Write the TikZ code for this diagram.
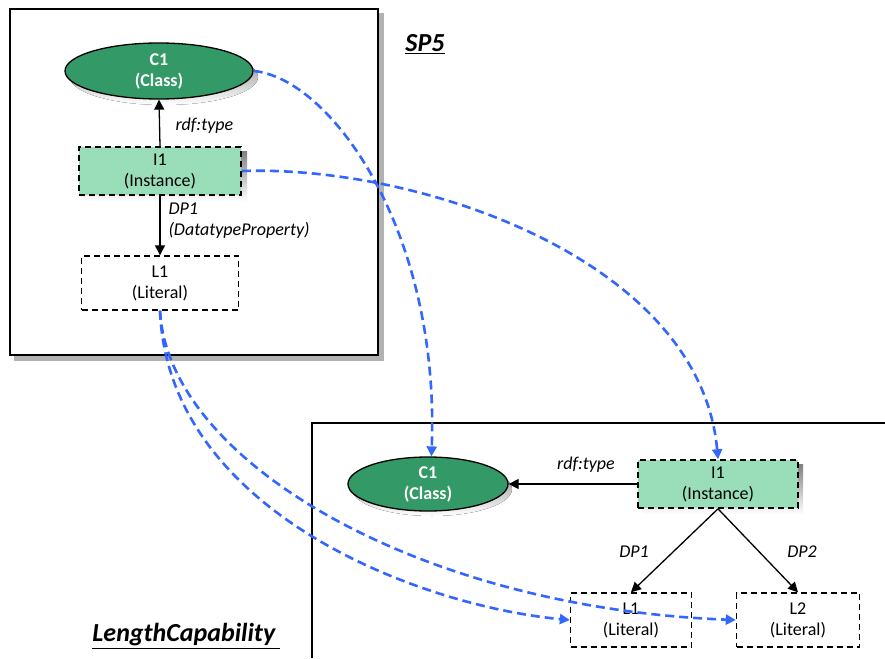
\documentclass[tikz,border=0pt]{standalone}
\usepackage{fontspec}
\setmainfont{Carlito}
\usetikzlibrary{arrows.meta,shapes.geometric}

\definecolor{classgreen}{HTML}{339966}
\definecolor{instgreen}{HTML}{9ADEB9}
\definecolor{shade}{HTML}{8FA2C2}
\definecolor{linkblue}{HTML}{3366FF}

\tikzset{
  classnode/.style={ellipse, draw=black, line width=1.3pt, fill=classgreen,
    minimum width=188pt, minimum height=56pt, inner sep=0pt,
    text=white, font=\bfseries\fontsize{18}{21}\selectfont, align=center},
  instnode/.style={rectangle, draw=black, line width=1.6pt,
    dash pattern=on 6pt off 4pt, fill=instgreen,
    minimum width=162pt, minimum height=48pt, inner sep=0pt,
    font=\fontsize{18}{21}\selectfont, align=center},
  litnode/.style={rectangle, draw=black, line width=1.4pt,
    dash pattern=on 6pt off 4pt, fill=white,
    minimum height=54pt, inner sep=0pt,
    font=\fontsize{18}{21}\selectfont, align=center},
  edgelabel/.style={font=\itshape\fontsize{18}{21}\selectfont, align=left},
  title/.style={font=\bfseries\itshape\fontsize{26}{30}\selectfont},
  rel/.style={-{Triangle[length=10pt,width=10pt]}, line width=1.3pt, black},
  link/.style={-{Triangle[length=10pt,width=10pt]}, linkblue, line width=2.6pt,
    dash pattern=on 9pt off 5pt},
  frame/.style={draw=black, line width=2.4pt, fill=white},
}

\begin{document}
\begin{tikzpicture}[x=1pt,y=-1pt]
\useasboundingbox (0,0) rectangle (885,658);

% upper frame (SP5) with its shadow
\fill[black!30] (14,13) rectangle (384,361);
\draw[frame] (10,9) rectangle (378,355);

% lower frame (LengthCapability), running off the page
\draw[black, line width=1.5pt] (885,423) -- (312,423) -- (312,658);

% section titles
\node[title] (sp5) at (425,44) {\underline{SP5}};
\node[title] (lc) at (186,636) {\underline{LengthCapability\,}};

% shadows under the nodes
\fill[shade] (164,77) ellipse [x radius=94pt, y radius=28pt];
\fill[shade] (83,151) rectangle (247,201);
\fill[shade] (432,489) ellipse [x radius=80pt, y radius=27pt];
\fill[shade] (642,464) rectangle (803,514);

% SP5 graph
\node[classnode] (c1a) at (159,71) {C1\\(Class)};
\node[instnode] (i1a) at (160,171) {I1\\(Instance)};
\node[litnode, minimum width=157pt] (l1a) at (160,283) {L1\\(Literal)};

\draw[rel] (i1a.north) -- (c1a.south);
\draw[rel] (i1a.south) -- (l1a.north);
\node[edgelabel, anchor=west] (rt1) at (172,126) {rdf:type};
\node[edgelabel, anchor=west] (dp1a) at (165,221) {DP1\\(DatatypeProperty)};

% LengthCapability graph
\node[classnode, minimum width=160pt, minimum height=54pt] (c1b) at (428,484) {C1\\(Class)};
\node[instnode, minimum width=160pt] (i1b) at (718,484) {I1\\(Instance)};
\node[litnode, minimum width=121pt] (l1b) at (631,620) {L1\\(Literal)};
\node[litnode, minimum width=123pt] (l2b) at (798,620) {L2\\(Literal)};

\draw[rel] (i1b.west) -- (c1b.east);
\draw[rel] (i1b.south) -- (l1b.north);
\draw[rel] (i1b.south) -- (l2b.north);
\node[edgelabel] (rt2) at (586,465) {rdf:type};
\node[edgelabel] (dp1b) at (634,552) {DP1};
\node[edgelabel] (dp2b) at (802,552) {DP2};

% correspondences between the two graphs
\draw[link] (c1a.east) .. controls (330,78) and (440,230) .. (c1b.83);
\draw[link] (i1a.east) .. controls (420,165) and (700,260) .. (i1b.north);
\draw[link] (l1a.south) .. controls (168,512) and (420,606) .. (l1b.west);
\draw[link] (l1a.south) .. controls (168,462) and (420,608) .. (l2b.west);
\end{tikzpicture}
\end{document}
